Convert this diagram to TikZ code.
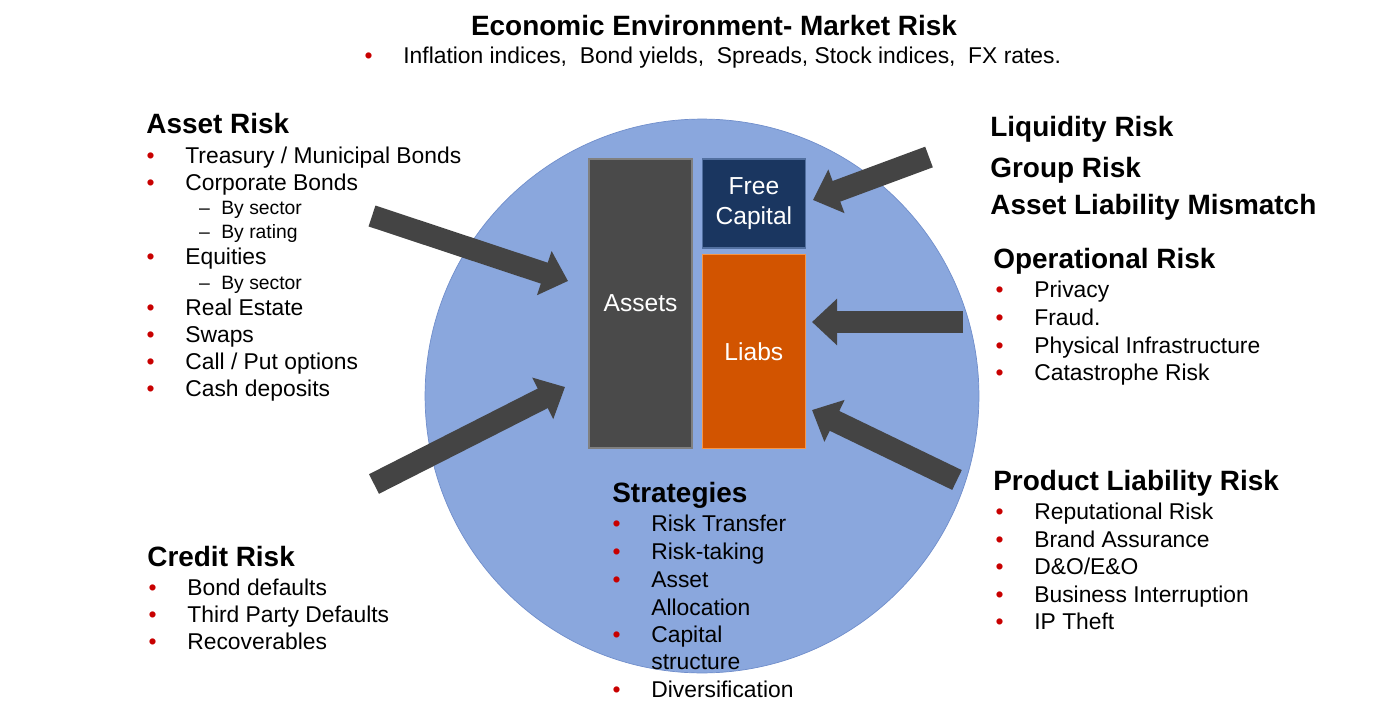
\documentclass[tikz,border=0pt]{standalone}
\usepackage{fontspec}
\setmainfont{Liberation Sans}
\usetikzlibrary{positioning, arrows.meta}
\definecolor{globeblue}{RGB}{138,167,221}
\definecolor{globerim}{RGB}{112,142,203}
\definecolor{assetgray}{RGB}{74,74,74}
\definecolor{assetrim}{RGB}{128,128,128}
\definecolor{capnavy}{RGB}{26,54,96}
\definecolor{caprim}{RGB}{82,112,160}
\definecolor{liabor}{RGB}{210,84,0}
\definecolor{liabrim}{RGB}{247,150,70}
\definecolor{bulred}{RGB}{200,0,0}
\definecolor{arrowgray}{RGB}{68,68,68}
\newcommand{\bul}{\llap{\textcolor{bulred}{\textbullet}\hspace{17.5pt}}}
\newcommand{\subit}{\fontsize{11}{13}\selectfont\llap{--\hspace{6.5pt}}}

\begin{document}
\begin{tikzpicture}[x=0.02cm, y=-0.02cm, font=\fontsize{13}{15.6}\selectfont,
          head/.style={anchor=base west, inner sep=0pt, font=\fontsize{15.9}{19}\selectfont\bfseries},
          itm/.style={anchor=base west, inner sep=0pt},
          block/.style={draw, thick, text=white, align=center, inner sep=0pt, minimum width=2.06cm, font=\fontsize{14}{17}\selectfont},
          fatarrow/.style={arrowgray, line width=0.44cm, -{Triangle[length=0.5cm, width=0.9cm]}}]
        \useasboundingbox (0,0) rectangle (1379,720);
        % market risk on top
        \node[head, anchor=base] (title) at (714,35) {Economic Environment- Market Risk};
        \node[itm] (market) at (403,63) {\bul Inflation indices,\ \ Bond yields,\ \ Spreads, Stock indices,\ \ FX rates.};
        % the company
        \node[circle, fill=globeblue, draw=globerim, minimum size=11.08cm, inner sep=0pt] (globe) at (702,396) {};
        \node[block, fill=assetgray, draw=assetrim, minimum height=5.78cm] (assets) at (640.5,303.5) {Assets};
        \node[block, fill=capnavy, draw=caprim, minimum height=1.78cm, anchor=north west] (free) at ([xshift=0.18cm]assets.north east) {Free\\Capital};
        \node[block, fill=liabor, draw=liabrim, minimum height=3.88cm, below=0.1cm of free] (liabs) {Liabs};
        % risks pushing in
        \coordinate (a1) at (372,216); \coordinate (a1h) at (568,281);
        \coordinate (a2) at (374,484); \coordinate (a2h) at (565,387);
        \coordinate (a3) at (929,157); \coordinate (a3h) at (813,200);
        \coordinate (a4) at (963,322); \coordinate (a4h) at (812,322);
        \coordinate (a5) at (957,480); \coordinate (a5h) at (812,410);
        \draw[fatarrow] (a1) -- (a1h); \draw[fatarrow] (a2) -- (a2h);
        \draw[fatarrow] (a3) -- (a3h); \draw[fatarrow] (a4) -- (a4h);
        \draw[fatarrow] (a5) -- (a5h);
        % left side
        \node[head] (asset) at (146,133) {Asset Risk};
        \foreach \xb/\yb/\txt [count=\i] in {185/163/{\bul Treasury / Municipal Bonds}, 185/190/{\bul Corporate Bonds},
              221/214/{\subit By sector}, 221/238/{\subit By rating}, 185/264/{\bul Equities}, 221/289/{\subit By sector},
              185/315/{\bul Real Estate}, 185/342/{\bul Swaps}, 185/369/{\bul Call / Put options}, 185/396/{\bul Cash deposits}}
          \node[itm] (ast\i) at (\xb,\yb) {\txt};
        \node[head] (credit) at (147,566) {Credit Risk};
        \foreach \yb/\txt [count=\i] in {595/Bond defaults, 622/Third Party Defaults, 649/Recoverables}
          \node[itm] (crd\i) at (187,\yb) {\bul \txt};
        % right side
        \node[head] (liquid) at (990,136) {Liquidity Risk};
        \node[head] (group) at (990,177) {Group Risk};
        \node[head] (alm) at (990,214) {Asset Liability Mismatch};
        \node[head] (oper) at (993,268) {Operational Risk};
        \foreach \yb/\txt [count=\i] in {297/Privacy, 325/Fraud., 353/Physical Infrastructure, 380/Catastrophe Risk}
          \node[itm] (opr\i) at (1034,\yb) {\bul \txt};
        \node[head] (product) at (993,490) {Product Liability Risk};
        \foreach \yb/\txt [count=\i] in {519/Reputational Risk, 547/Brand Assurance, 574/{D\&O/E\&O}, 602/Business Interruption, 629/IP Theft}
          \node[itm] (prd\i) at (1034,\yb) {\bul \txt};
        % strategies
        \node[head] (strat) at (612,502) {Strategies};
        \foreach \yb/\txt [count=\i] in {531/{\bul Risk Transfer}, 559/{\bul Risk-taking}, 587/{\bul Asset}, 615/Allocation,
              642/{\bul Capital}, 669/structure, 697/{\bul Diversification}}
          \node[itm] (str\i) at (651,\yb) {\txt};
\end{tikzpicture}
\end{document}
